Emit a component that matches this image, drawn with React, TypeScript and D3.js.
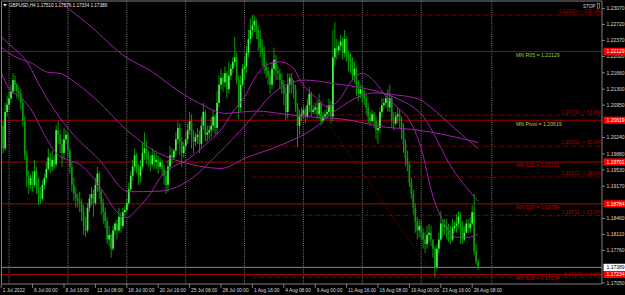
import React from 'react';
import * as d3 from 'd3';

// ---------- DATA ----------
const symbolTitle = 'GBPUSD,H4  1.17510 1.17576 1.17334 1.17389';
const firstOpen = 1.2090;

const barClose = [
  1.2050, 1.2000, 1.2080, 1.2096,
  1.2110, 1.2125, 1.2150, 1.2140, 1.2125, 1.2120,
  1.2100, 1.2060, 1.1985, 1.1940, 1.1920, 1.1935,
  1.1920, 1.1950, 1.1930, 1.1900, 1.1890, 1.1920,
  1.1935, 1.1955, 1.1980, 1.1960, 1.1975, 1.1965,
  1.2040, 1.2030, 1.2010, 1.1990, 1.2020, 1.2030,
  1.1995, 1.1960, 1.1920, 1.1900, 1.1890, 1.1885,
  1.1880, 1.1860, 1.1830, 1.1820, 1.1870, 1.1890,
  1.1900, 1.1880, 1.1920, 1.1945, 1.1905, 1.1880,
  1.1860, 1.1840, 1.1800, 1.1810, 1.1780, 1.1820,
  1.1835, 1.1820, 1.1850, 1.1830, 1.1860, 1.1865,
  1.1880, 1.1910, 1.1940, 1.1960, 1.1985, 1.1955,
  1.1940, 1.1960, 1.1990, 1.2000, 1.1985, 1.1975,
  1.1965, 1.1985, 1.1970, 1.1975, 1.1960, 1.1970,
  1.1955, 1.1940, 1.1920, 1.1960, 1.1985, 1.1980,
  1.1995, 1.2020, 1.2045, 1.2015, 1.1990, 1.2005,
  1.2020, 1.2040, 1.2060, 1.2030, 1.2015, 1.2025,
  1.2030, 1.2010, 1.2050, 1.2080, 1.2030, 1.2035,
  1.2040, 1.2050, 1.2070, 1.2045, 1.2100, 1.2140,
  1.2155, 1.2145, 1.2165, 1.2130, 1.2160, 1.2175,
  1.2190, 1.2200, 1.2150, 1.2090, 1.2140, 1.2175,
  1.2180, 1.2210, 1.2240, 1.2260, 1.2270, 1.2280,
  1.2260, 1.2240, 1.2220, 1.2210, 1.2180, 1.2170,
  1.2160, 1.2140, 1.2175, 1.2195, 1.2170, 1.2165,
  1.2150, 1.2140, 1.2120, 1.2080, 1.2140, 1.2155,
  1.2140, 1.2130, 1.2090, 1.2050, 1.2070, 1.2075,
  1.2085, 1.2070, 1.2095, 1.2120, 1.2080, 1.2085,
  1.2090, 1.2075, 1.2100, 1.2060, 1.2070, 1.2075,
  1.2080, 1.2095, 1.2070, 1.2200, 1.2220, 1.2215,
  1.2225, 1.2235, 1.2210, 1.2240, 1.2205, 1.2195,
  1.2190, 1.2160, 1.2175, 1.2140, 1.2120, 1.2130,
  1.2120, 1.2110, 1.2090, 1.2070, 1.2060, 1.2075,
  1.2060, 1.2040, 1.2045, 1.2080, 1.2095, 1.2100,
  1.2110, 1.2090, 1.2110, 1.2060, 1.2055, 1.2070,
  1.2075, 1.2060, 1.2045, 1.2010, 1.1980, 1.1965,
  1.1925, 1.1900, 1.1870, 1.1840, 1.1820, 1.1830,
  1.1815, 1.1800, 1.1790, 1.1810, 1.1815, 1.1800,
  1.1780, 1.1740, 1.1780, 1.1800, 1.1835, 1.1830,
  1.1830, 1.1820, 1.1810, 1.1800, 1.1825, 1.1830,
  1.1835, 1.1850, 1.1830, 1.1800, 1.1815, 1.1835,
  1.1825, 1.1835, 1.1860, 1.1775, 1.17510, 1.17389,
];

const barHigh = [
  1.2120, 1.2060, 1.2100, 1.2115,
  1.2125, 1.2140, 1.2165, 1.2160, 1.2145, 1.2135,
  1.2130, 1.2110, 1.2070, 1.1995, 1.1950, 1.1945,
  1.1950, 1.1975, 1.1960, 1.1935, 1.1915, 1.1930,
  1.1945, 1.1970, 1.2000, 1.1990, 1.1995, 1.1985,
  1.2050, 1.2060, 1.2040, 1.2020, 1.2045, 1.2040,
  1.2035, 1.2000, 1.1970, 1.1935, 1.1915, 1.1900,
  1.1905, 1.1890, 1.1875, 1.1850, 1.1880, 1.1900,
  1.1915, 1.1910, 1.1935, 1.1960, 1.1950, 1.1910,
  1.1890, 1.1870, 1.1850, 1.1830, 1.1815, 1.1830,
  1.1840, 1.1845, 1.1870, 1.1860, 1.1870, 1.1875,
  1.1890, 1.1925, 1.1950, 1.1975, 1.2000, 1.1990,
  1.1965, 1.1975, 1.2015, 1.2035, 1.2015, 1.1995,
  1.1985, 1.2000, 1.1995, 1.1990, 1.1985, 1.1980,
  1.1975, 1.1965, 1.1950, 1.1975, 1.2005, 1.2000,
  1.2000, 1.2035, 1.2060, 1.2055, 1.2025, 1.2015,
  1.2035, 1.2055, 1.2080, 1.2075, 1.2040, 1.2035,
  1.2045, 1.2040, 1.2070, 1.2100, 1.2085, 1.2050,
  1.2050, 1.2070, 1.2085, 1.2075, 1.2125, 1.2160,
  1.2175, 1.2165, 1.2180, 1.2170, 1.2190, 1.2185,
  1.2200, 1.2245, 1.2210, 1.2160, 1.2160, 1.2185,
  1.2200, 1.2225, 1.2260, 1.2285, 1.2293, 1.2290,
  1.2285, 1.2270, 1.2260, 1.2240, 1.2225, 1.2190,
  1.2180, 1.2170, 1.2190, 1.2220, 1.2205, 1.2180,
  1.2175, 1.2165, 1.2150, 1.2135, 1.2165, 1.2165,
  1.2165, 1.2150, 1.2140, 1.2100, 1.2085, 1.2090,
  1.2095, 1.2090, 1.2110, 1.2135, 1.2125, 1.2095,
  1.2100, 1.2105, 1.2120, 1.2105, 1.2080, 1.2085,
  1.2095, 1.2110, 1.2105, 1.2260, 1.2277, 1.2240,
  1.2235, 1.2250, 1.2245, 1.2260, 1.2245, 1.2215,
  1.2210, 1.2200, 1.2190, 1.2180, 1.2150, 1.2140,
  1.2140, 1.2130, 1.2120, 1.2100, 1.2080, 1.2085,
  1.2080, 1.2070, 1.2060, 1.2090, 1.2110, 1.2110,
  1.2120, 1.2130, 1.2140, 1.2115, 1.2080, 1.2080,
  1.2090, 1.2085, 1.2070, 1.2055, 1.2020, 1.1995,
  1.1970, 1.1935, 1.1910, 1.1880, 1.1850, 1.1845,
  1.1840, 1.1825, 1.1815, 1.1830, 1.1835, 1.1830,
  1.1800, 1.1785, 1.1790, 1.1815, 1.1862, 1.1845,
  1.1845, 1.1845, 1.1835, 1.1830, 1.1845, 1.1840,
  1.1855, 1.1862, 1.1860, 1.1840, 1.1830, 1.1845,
  1.1845, 1.1850, 1.1875, 1.1900, 1.1790, 1.17576,
];

const barLow = [
  1.2040, 1.1990, 1.1995, 1.2070,
  1.2085, 1.2100, 1.2120, 1.2125, 1.2110, 1.2105,
  1.2085, 1.2050, 1.1975, 1.1915, 1.1900, 1.1910,
  1.1905, 1.1915, 1.1900, 1.1875, 1.1878, 1.1885,
  1.1910, 1.1925, 1.1950, 1.1945, 1.1950, 1.1955,
  1.1960, 1.2010, 1.1990, 1.1960, 1.1975, 1.2010,
  1.1980, 1.1945, 1.1905, 1.1885, 1.1870, 1.1870,
  1.1860, 1.1840, 1.1810, 1.1806, 1.1815, 1.1860,
  1.1875, 1.1850, 1.1875, 1.1905, 1.1890, 1.1855,
  1.1835, 1.1825, 1.1790, 1.1785, 1.1760, 1.1775,
  1.1810, 1.1800, 1.1815, 1.1815, 1.1825, 1.1850,
  1.1860, 1.1875, 1.1905, 1.1930, 1.1950, 1.1945,
  1.1920, 1.1925, 1.1955, 1.1975, 1.1965, 1.1960,
  1.1950, 1.1960, 1.1955, 1.1955, 1.1945, 1.1955,
  1.1940, 1.1920, 1.1900, 1.1905, 1.1950, 1.1965,
  1.1975, 1.1985, 1.2010, 1.1985, 1.1960, 1.1980,
  1.1995, 1.2010, 1.2030, 1.2000, 1.1990, 1.2005,
  1.2010, 1.1990, 1.2000, 1.2040, 1.2015, 1.2015,
  1.2020, 1.2025, 1.2035, 1.2030, 1.2030, 1.2090,
  1.2130, 1.2125, 1.2135, 1.2110, 1.2120, 1.2150,
  1.2165, 1.2180, 1.2140, 1.2064, 1.2080, 1.2135,
  1.2150, 1.2165, 1.2200, 1.2230, 1.2245, 1.2255,
  1.2240, 1.2215, 1.2200, 1.2180, 1.2165, 1.2155,
  1.2140, 1.2120, 1.2130, 1.2160, 1.2150, 1.2150,
  1.2130, 1.2120, 1.2095, 1.2062, 1.2065, 1.2120,
  1.2120, 1.2110, 1.2080, 1.2003, 1.2030, 1.2060,
  1.2065, 1.2055, 1.2065, 1.2080, 1.2070, 1.2075,
  1.2075, 1.2065, 1.2065, 1.2050, 1.2055, 1.2065,
  1.2065, 1.2070, 1.2055, 1.2060, 1.2180, 1.2195,
  1.2205, 1.2215, 1.2195, 1.2200, 1.2190, 1.2170,
  1.2165, 1.2150, 1.2145, 1.2115, 1.2105, 1.2110,
  1.2100, 1.2095, 1.2075, 1.2055, 1.2050, 1.2055,
  1.2045, 1.2020, 1.2010, 1.2035, 1.2070, 1.2085,
  1.2090, 1.2080, 1.2080, 1.2045, 1.2040, 1.2050,
  1.2055, 1.2045, 1.2020, 1.1990, 1.1960, 1.1950,
  1.1915, 1.1890, 1.1855, 1.1815, 1.1800, 1.1805,
  1.1800, 1.1780, 1.1770, 1.1780, 1.1795, 1.1785,
  1.1760, 1.1717, 1.1735, 1.1770, 1.1795, 1.1805,
  1.1810, 1.1800, 1.1795, 1.1790, 1.1795, 1.1815,
  1.1815, 1.1825, 1.1790, 1.1790, 1.1795, 1.1815,
  1.1815, 1.1815, 1.1830, 1.1765, 1.1745, 1.17334,
];

// moving averages: [bar index, price]
const maFast = [
  [0, 1.2167], [4, 1.2131], [10, 1.2112], [16, 1.2080], [22, 1.2030], [28, 1.1990],
  [34, 1.1975], [40, 1.1965], [46, 1.1940], [52, 1.1905], [58, 1.1865], [64, 1.1848],
  [70, 1.1870], [76, 1.1901], [82, 1.1941], [88, 1.1961], [94, 1.1973], [100, 1.1993],
  [106, 1.2016], [112, 1.2041], [118, 1.2080], [124, 1.2113], [130, 1.2160], [136, 1.2185],
  [142, 1.2190], [148, 1.2180], [154, 1.2139], [160, 1.2113], [166, 1.2092], [172, 1.2105],
  [178, 1.2145], [184, 1.2165], [190, 1.2148], [196, 1.2115], [202, 1.2090], [208, 1.2062],
  [214, 1.2000], [220, 1.1895], [226, 1.1835], [232, 1.1805], [238, 1.1805], [243, 1.1812],
];
const maMid = [
  [0, 1.2245], [5, 1.2225], [12, 1.2197], [21, 1.2127], [24, 1.2105], [35, 1.2039],
  [50, 1.1975], [65, 1.1905], [80, 1.1906], [95, 1.1928], [110, 1.1986], [125, 1.2054],
  [140, 1.2126], [155, 1.2150], [170, 1.2142], [185, 1.2132], [200, 1.2113], [215, 1.2070],
  [230, 1.1955], [243, 1.1884],
];
const maSlow = [
  [0, 1.2222], [6, 1.2204], [16, 1.2186], [24, 1.2167], [30, 1.2165], [36, 1.2150],
  [49, 1.2105], [64, 1.2040], [80, 1.1990], [94, 1.1968], [106, 1.1958], [112, 1.1956],
  [124, 1.1978], [144, 1.2010], [158, 1.2040], [171, 1.2085], [183, 1.2115], [190, 1.2122],
  [200, 1.2118], [213, 1.2108], [219, 1.2090], [231, 1.2044], [243, 1.2000],
];
const maLong = [
  [0, 1.2420], [15, 1.2372], [29, 1.2325], [45, 1.2270], [64, 1.2199], [76, 1.2171],
  [90, 1.2127], [101, 1.2099], [114, 1.2077], [130, 1.2082], [145, 1.2075], [158, 1.2069],
  [173, 1.2065], [197, 1.2046], [209, 1.2042], [243, 1.2013],
];

const pivotNames = ['MN R05', 'MN Pivot', 'MN S05', 'MN S10', 'MN S15'];
const pivotValues = [1.22129, 1.20619, 1.19701, 1.18784, 1.17234];
const pivotTextColors = ['#9acd32', '#c8c83c', '#c00000', '#c00000', '#c00000'];

const fibPercents = ['100.0%', '61.8%', '50.0%', '38.2%', '23.6%', '0.0%'];
const fibValues = [1.22930, 1.20730, 1.20052, 1.19372, 1.18531, 1.17172];
const fibStartBar = 128;
const fibEndBar = 221;

const bidPrice = 1.17389;

// visible price-scale labels (those hidden under the level boxes are left out)
const priceTickLabels = [
  '1.23070', '1.22720', '1.22370', '1.22020', '1.21660', '1.21300', '1.20950', '1.20240',
  '1.19880', '1.19530', '1.19170', '1.18460', '1.18110', '1.17760', '1.17050',
];

const weekSeparatorBars = [4, 34, 64, 94, 124, 154, 184, 214, 250];
const timeLabelStep = 16;

// ---------- LAYOUT ----------
const W = 625;
const H = 295;
const plotLeft = 1.5;
const plotRight = 602;
const plotTop = 1;
const plotBottom = 284;
const barSpacing = 1.9625;
const FONT = '"Liberation Sans", Arial, sans-serif';

function buildTimes(n: number): Date[] {
  const out: Date[] = [];
  const d = new Date(Date.UTC(2022, 6, 1));
  while (out.length < n + 2) {
    const wd = d.getUTCDay();
    if (wd !== 0 && wd !== 6) {
      for (let h = 0; h < 24; h += 4) {
        const t = new Date(d.getTime());
        t.setUTCHours(h);
        out.push(t);
      }
    }
    d.setUTCDate(d.getUTCDate() + 1);
  }
  return out.slice(2, 2 + n);
}

export default function App() {
  const n = barClose.length;
  const x = d3.scaleLinear().domain([0, n - 1]).range([1.2, 1.2 + (n - 1) * barSpacing]);
  const y = d3.scaleLinear().domain([1.1705, 1.2307]).range([282.8, 8.6]);
  const times = buildTimes(n);
  const fmt = d3.utcFormat('%-d %b %H:%M');

  const line = d3
    .line<number[]>()
    .x((d) => x(d[0]))
    .y((d) => y(d[1]))
    .curve(d3.curveMonotoneX);

  const candles = barClose.map((c, i) => {
    const o = i === 0 ? firstOpen : barClose[i - 1];
    const bull = c >= o;
    const cx = x(i);
    const yTop = y(Math.max(o, c));
    const yBot = y(Math.min(o, c));
    return (
      <g key={i}>
        <line x1={cx} x2={cx} y1={y(barHigh[i])} y2={y(barLow[i])} stroke="#00b000" strokeWidth={0.9} />
        <rect
          x={cx - 0.85}
          y={yTop}
          width={1.7}
          height={Math.max(0.8, yBot - yTop)}
          fill={bull ? '#4cf04c' : '#079a07'}
        />
      </g>
    );
  });

  const timeLabels = [];
  for (let i = 0; i < n; i += timeLabelStep) {
    const label = i === 0 ? '1 Jul 2022' : fmt(times[i]);
    timeLabels.push(
      <g key={i}>
        <line x1={x(i)} x2={x(i)} y1={plotBottom} y2={plotBottom + 4} stroke="#c8c8c8" strokeWidth={0.6} />
        <text x={x(i) + 1.5} y={plotBottom + 7.6} fontSize={4.8} fill="#d8d8d8" fontFamily={FONT}>
          {label}
        </text>
      </g>
    );
  }

  const boxLabel = (v: number, text: string, fill: string, color: string, key: string) => (
    <g key={key}>
      <rect x={plotRight + 1.5} y={y(v) - 3.6} width={W - plotRight - 1.5} height={7.2} fill={fill} />
      <text x={plotRight + 4.5} y={y(v) + 1.9} fontSize={5} fill={color} fontFamily={FONT}>
        {text}
      </text>
    </g>
  );

  return (
    <svg
      width={W}
      height={H}
      viewBox={`0 0 ${W} ${H}`}
      style={{ position: 'absolute', left: 0, top: 0, display: 'block', background: '#000' }}
    >
      <defs>
        <clipPath id="plot">
          <rect x={plotLeft} y={plotTop} width={plotRight - plotLeft} height={plotBottom - plotTop} />
        </clipPath>
      </defs>
      <rect x={0} y={0} width={W} height={H} fill="#000" />

      <g clipPath="url(#plot)">
        {/* weekly separators */}
        {weekSeparatorBars.map((b) => (
          <line key={b} x1={x(b)} x2={x(b)} y1={plotTop} y2={plotBottom} stroke="#9a9a9a" strokeWidth={0.8} strokeDasharray="1 1.2" />
        ))}

        {/* fibonacci levels */}
        {fibValues.map((v, i) => (
          <g key={'fib' + i}>
            <line x1={x(fibStartBar)} x2={plotRight} y1={y(v)} y2={y(v)} stroke="#8b0000" strokeWidth={0.9} strokeDasharray="4 1.5 1 1.5" />
            <text x={plotRight - 1} y={y(v) - 1.6} fontSize={5} fill="#a80000" textAnchor="end" fontFamily={FONT}>
              {`${v.toFixed(5)} -> ${fibPercents[i]}`}
            </text>
          </g>
        ))}
        <line
          x1={x(fibStartBar)}
          y1={y(fibValues[0])}
          x2={x(fibEndBar)}
          y2={y(fibValues[fibValues.length - 1])}
          stroke="#8b0000"
          strokeWidth={0.9}
          strokeDasharray="1 1.4"
        />

        {/* pivot lines */}
        {pivotValues.map((v, i) => (
          <line key={'pv' + i} x1={plotLeft} x2={plotRight} y1={y(v)} y2={y(v)} stroke="#a80000" strokeWidth={1} />
        ))}

        {/* bid line */}
        <line x1={plotLeft} x2={plotRight} y1={y(bidPrice)} y2={y(bidPrice)} stroke="#778899" strokeWidth={1} />

        {/* candles */}
        {candles}

        {/* moving averages */}
        {[maLong, maSlow, maMid, maFast].map((m, i) => (
          <path key={'ma' + i} d={line(m) || ''} fill="none" stroke="#a020a8" strokeWidth={1} />
        ))}

        {/* pivot texts */}
        {pivotValues.map((v, i) => (
          <text key={'pt' + i} x={516} y={y(v) + 5.4} fontSize={5.2} fill={pivotTextColors[i]} fontFamily={FONT}>
            {`${pivotNames[i]} = ${v.toFixed(5)}`}
          </text>
        ))}
      </g>

      {/* frame */}
      <line x1={plotLeft} x2={plotLeft} y1={plotTop} y2={plotBottom} stroke="#a0a0a0" strokeWidth={0.8} />
      <line x1={plotLeft} x2={plotRight} y1={plotTop} y2={plotTop} stroke="#a0a0a0" strokeWidth={0.8} />
      <line x1={plotRight} x2={plotRight} y1={plotTop} y2={plotBottom} stroke="#a0a0a0" strokeWidth={0.8} />
      <line x1={plotLeft} x2={plotRight} y1={plotBottom} y2={plotBottom} stroke="#a0a0a0" strokeWidth={0.8} />

      {/* price axis */}
      {priceTickLabels.map((t) => (
        <g key={t}>
          <line x1={plotRight} x2={plotRight + 3} y1={y(+t)} y2={y(+t)} stroke="#c8c8c8" strokeWidth={0.6} />
          <text x={plotRight + 4.5} y={y(+t) + 1.8} fontSize={5} fill="#d8d8d8" fontFamily={FONT}>
            {t}
          </text>
        </g>
      ))}
      {pivotValues.map((v, i) => boxLabel(v, v.toFixed(5), '#ff0000', '#ffffff', 'bl' + i))}
      {boxLabel(bidPrice, bidPrice.toFixed(5), '#ffffff', '#000000', 'bid')}

      {/* time axis */}
      {timeLabels}

      {/* title */}
      <path d="M3,4 L7,4 L5,6.5 Z" fill="#e0e0e0" />
      <text x={9} y={7} fontSize={4.6} fill="#e8e8e8" fontFamily={FONT}>
        {symbolTitle}
      </text>

      {/* STOP marker */}
      <text x={583} y={7.5} fontSize={4.6} fill="#d8d8d8" fontFamily={FONT}>
        STOP
      </text>
      <rect x={597.5} y={3.2} width={2} height={5} fill="none" stroke="#d8d8d8" strokeWidth={0.5} />
    </svg>
  );
}
